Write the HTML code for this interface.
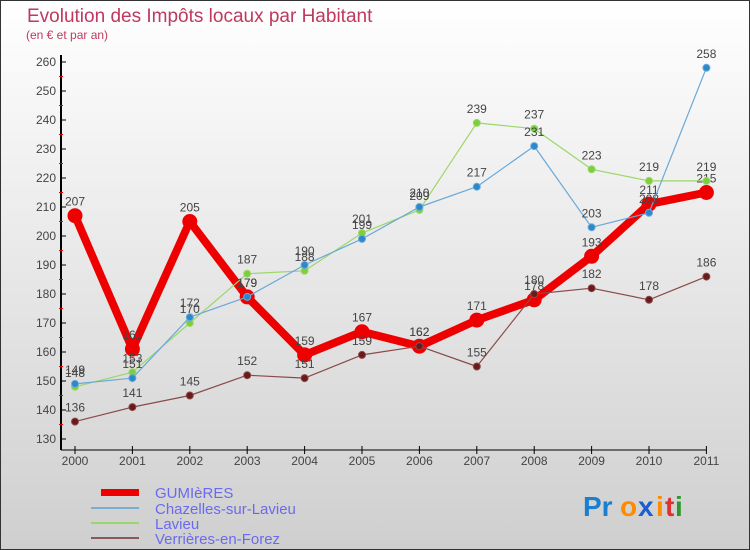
<!DOCTYPE html>
<html><head><meta charset="utf-8"><style>
body{margin:0;}
#wrap{width:750px;height:550px;position:relative;box-sizing:border-box;border:1px solid #333;background:linear-gradient(#ffffff,#cfcfcf);font-family:"Liberation Sans",sans-serif;overflow:hidden}
</style></head><body>
<div id="wrap">
<svg id="chart" width="750" height="550" style="position:absolute;left:-1px;top:-1px">
<text x="27" y="22" font-size="19" fill="#c0385f">Evolution des Impôts locaux par Habitant</text>
<text x="26" y="39" font-size="12" fill="#c0385f">(en € et par an)</text>
<g id="axes"></g><g id="series"></g>
<g>
<rect x="101" y="489" width="38" height="7" fill="#e00"/>
<text x="155" y="498" font-size="15" fill="#6a6af0">GUMIèRES</text>
<rect x="91" y="507" width="48" height="2" fill="#7aaed0"/>
<text x="155" y="514" font-size="15" fill="#6a6af0">Chazelles-sur-Lavieu</text>
<rect x="91" y="522" width="48" height="2" fill="#9ad86a"/>
<text x="155" y="529" font-size="15" fill="#6a6af0">Lavieu</text>
<rect x="91" y="537" width="48" height="2" fill="#8a5a5a"/>
<text x="155" y="544" font-size="15" fill="#6a6af0">Verrières-en-Forez</text>
</g>
<g font-size="28" font-weight="bold">
<text x="583" y="516" fill="#1a7fd0">Pr</text><text x="620" y="516" fill="#ff8a00">o</text><text x="638" y="516" fill="#1a5fd0">x</text><text x="656" y="516" fill="#ff8a00">i</text><text x="665" y="516" fill="#e03030">t</text><text x="675" y="516" fill="#2a9a2a">i</text>
</g>
</svg>
</div>
<script>
const years=[2000,2001,2002,2003,2004,2005,2006,2007,2008,2009,2010,2011];
const gumieres=[207,161,205,179,159,167,162,171,178,193,211,215];
const chazelles=[149,151,172,179,190,199,210,217,231,203,208,258];
const lavieu=[148,153,170,187,188,201,209,239,237,223,219,219];
const verrieres=[136,141,145,152,151,159,162,155,180,182,178,186];
const yTicks=[130,140,150,160,170,180,190,200,210,220,230,240,250,260];
const NS="http://www.w3.org/2000/svg";
function xs(i){return 75+i*57.4;}
function ys(v){return 439-(v-130)*2.9;}
function mk(tag,attrs,parent){const e=document.createElementNS(NS,tag);for(const k in attrs)e.setAttribute(k,attrs[k]);parent.appendChild(e);return e;}
const ax=document.getElementById('axes');
let l=mk('line',{x1:61,y1:55,x2:61,y2:450,stroke:'#000','stroke-width':2},ax);


l=mk('line',{x1:61,y1:450,x2:706,y2:450,stroke:'#000','stroke-width':1},ax);


yTicks.forEach((v,i)=>{
 mk('line',{x1:61,y1:ys(v),x2:66,y2:ys(v),stroke:'#000'},ax);
 if(i<yTicks.length-1)mk('line',{x1:59,y1:ys(v+5),x2:63,y2:ys(v+5),stroke:'#e00'},ax);
 const t=mk('text',{x:56,y:ys(v)+4,'font-size':12,fill:'#444','text-anchor':'end'},ax);
 t.textContent=v;
 
 
});
years.forEach((y,i)=>{
 mk('line',{x1:xs(i),y1:446,x2:xs(i),y2:454,stroke:'#000'},ax);
 const t=mk('text',{x:xs(i),y:465,'font-size':12,fill:'#444','text-anchor':'middle'},ax);
 t.textContent=y;
 
 
});
const sg=document.getElementById('series');
function draw(vals,name,color,w,r,dot){
 const g=mk('g',{},sg);
 
 
 const p=mk('polyline',{points:vals.map((v,i)=>xs(i)+','+ys(v)).join(' '),fill:'none',stroke:color,'stroke-width':w,'stroke-linejoin':'round'},g);
 
 
 vals.forEach((v,i)=>{
  const c=mk('circle',{cx:xs(i),cy:ys(v),r:r,fill:dot,stroke:color,'stroke-width':1},g);
  
  
  const t=mk('text',{x:xs(i),y:ys(v)-10,'font-size':12,fill:'#444','text-anchor':'middle'},g);
  t.textContent=v;
  
  
 });
}
draw(gumieres,'gumieres','#ee0000',8,7,'#ee0000');
draw(verrieres,'verrieres','#8a4a4a',1.2,3.5,'#6a1a1a');
draw(lavieu,'lavieu','#9ad86a',1.2,3.5,'#7ccf3a');
draw(chazelles,'chazelles','#6aa8d8',1.2,3.5,'#2a88cc');
</script>
</body></html>
